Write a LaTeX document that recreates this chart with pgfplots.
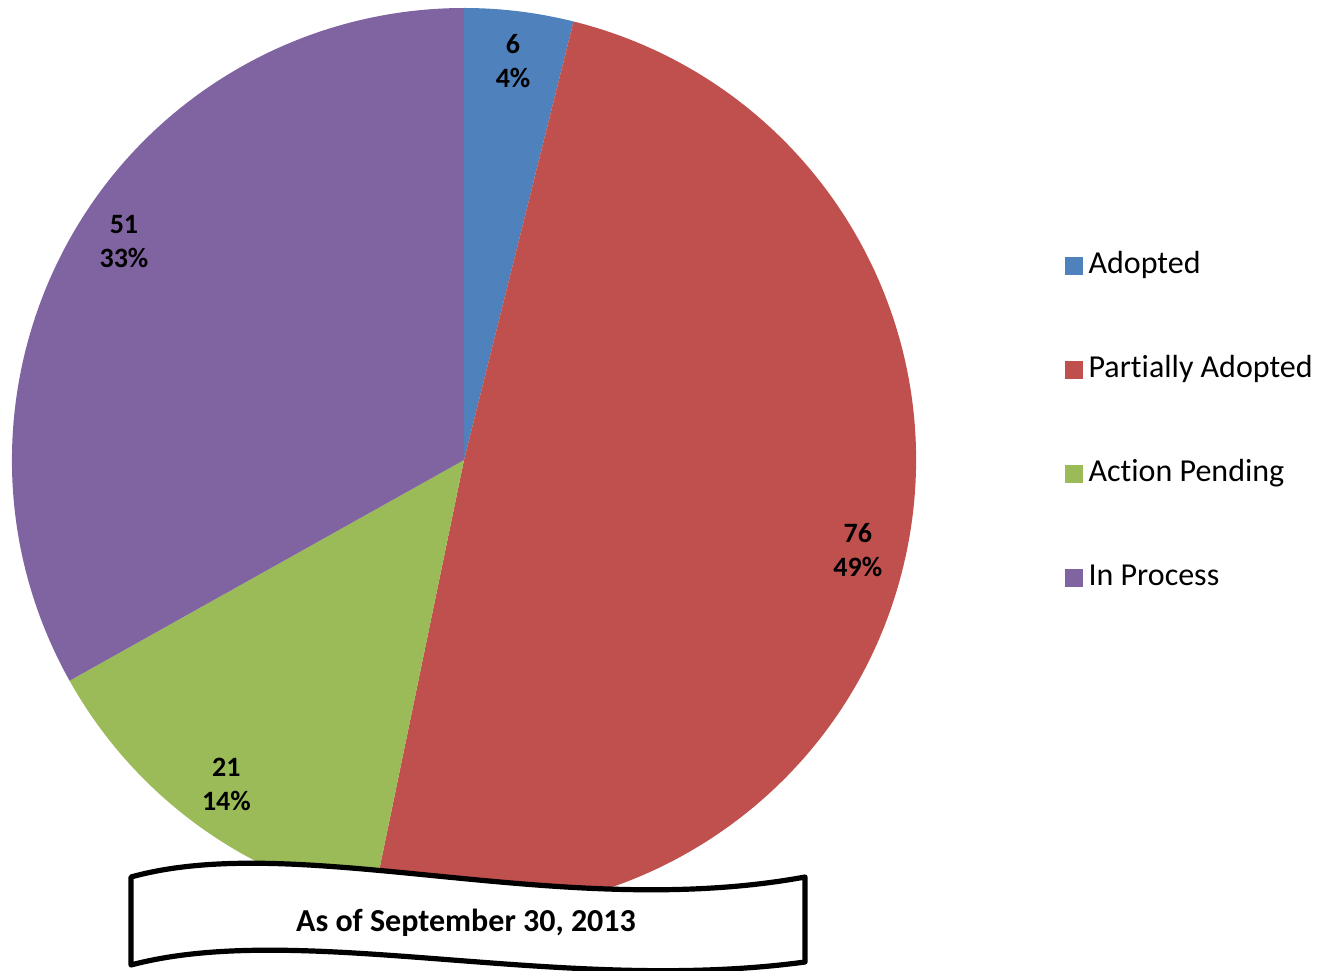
\documentclass[border=0pt]{standalone}
\usepackage{pgfplots}
\pgfplotsset{compat=1.18}
\usepackage{pgfplotstable}
\usepackage{fontspec}
\setmainfont{Carlito}[Ligatures={NoCommon}]
\definecolor{cA}{HTML}{4F81BD}
\definecolor{cB}{HTML}{C0504D}
\definecolor{cC}{HTML}{9BBB59}
\definecolor{cD}{HTML}{8064A2}
\tikzset{lbl/.style={align=center, font=\bfseries\fontsize{14}{17}\selectfont}}

\pgfplotstableread{
name value
Adopted 6
Partially 76
Pending 21
Process 51
}\piedata

\begin{document}
\begin{tikzpicture}
\pgfplotstablegetelem{0}{value}\of\piedata \edef\vA{\pgfplotsretval}
\pgfplotstablegetelem{1}{value}\of\piedata \edef\vB{\pgfplotsretval}
\pgfplotstablegetelem{2}{value}\of\piedata \edef\vC{\pgfplotsretval}
\pgfplotstablegetelem{3}{value}\of\piedata \edef\vD{\pgfplotsretval}
\pgfmathsetmacro\tot{\vA+\vB+\vC+\vD}
\pgfmathsetmacro\aA{90}
\pgfmathsetmacro\aB{\aA-360*(\vA/\tot)}
\pgfmathsetmacro\aC{\aB-360*(\vB/\tot)}
\pgfmathsetmacro\aD{\aC-360*(\vC/\tot)}
\pgfmathsetmacro\aE{\aD-360*(\vD/\tot)}
\pgfmathsetmacro\mA{(\aA+\aB)/2}
\pgfmathsetmacro\mB{(\aB+\aC)/2}
\pgfmathsetmacro\mC{(\aC+\aD)/2}
\pgfmathsetmacro\mD{(\aD+\aE)/2-2.3}
\pgfmathtruncatemacro\pA{round(100*(\vA/\tot))}
\pgfmathtruncatemacro\pB{round(100*(\vB/\tot))}
\pgfmathtruncatemacro\pC{round(100*(\vC/\tot))}
\pgfmathtruncatemacro\pD{round(100*(\vD/\tot))}
\begin{axis}[
  width=660pt, height=485pt, scale only axis,
  xmin=0, xmax=1320, ymin=0, ymax=970,
  hide axis, clip=false,
  legend style={at={(0.8065,0.5653)}, anchor=west, draw=none, fill=none,
    font=\fontsize{16}{19}\selectfont, row sep=33pt, inner sep=0pt,
    nodes={inner sep=2pt, text height=11.5pt, text depth=3.5pt}, column sep=1pt},
  legend cell align=left,
  legend image code/.code={\fill[#1] (0pt,-4.2pt) rectangle (8.4pt,4.2pt);},
]
\addlegendimage{cA}\addlegendentry{Adopted}
\addlegendimage{cB}\addlegendentry{Partially Adopted}
\addlegendimage{cC}\addlegendentry{Action Pending}
\addlegendimage{cD}\addlegendentry{In Process}
\coordinate (bl) at (axis cs:0,0);
\coordinate (tr) at (axis cs:1320,970);
\fill[cA] (axis cs:464,510) -- (axis cs:{464+452*cos(\aA)},{510+452*sin(\aA)}) arc[start angle=\aA, end angle=\aB, radius=226pt] -- cycle;
\fill[cB] (axis cs:464,510) -- (axis cs:{464+452*cos(\aB)},{510+452*sin(\aB)}) arc[start angle=\aB, end angle=\aC, radius=226pt] -- cycle;
\fill[cC] (axis cs:464,510) -- (axis cs:{464+452*cos(\aC)},{510+452*sin(\aC)}) arc[start angle=\aC, end angle=\aD, radius=226pt] -- cycle;
\fill[cD] (axis cs:464,510) -- (axis cs:{464+452*cos(\aD)},{510+452*sin(\aD)}) arc[start angle=\aD, end angle=\aE, radius=226pt] -- cycle;
\node[lbl] at (axis cs:{464+402*cos(\mA)},{510+402*sin(\mA)}) {\vA\\\pA\%};
\node[lbl] at (axis cs:{464+404*cos(\mB)},{510+404*sin(\mB)}) {\vB\\\pB\%};
\node[lbl] at (axis cs:{464+402*cos(\mC)},{510+402*sin(\mC)}) {\vC\\\pC\%};
\node[lbl] at (axis cs:{464+404*cos(\mD)},{510+404*sin(\mD)}) {\vD\\\pD\%};
% banner
\draw[fill=white, line width=2.6pt, line join=round]
  (axis cs:131,93) .. controls (axis cs:300,140) and (axis cs:560,48) .. (axis cs:805,93)
  -- (axis cs:805,8) .. controls (axis cs:560,-25) and (axis cs:300,50) .. (axis cs:131,5) -- cycle;
\node[font=\bfseries\fontsize{16}{19}\selectfont] at (axis cs:466,47) {As of September 30, 2013};
\end{axis}
\pgfresetboundingbox
\path (bl) rectangle (tr);
\end{tikzpicture}
\end{document}
